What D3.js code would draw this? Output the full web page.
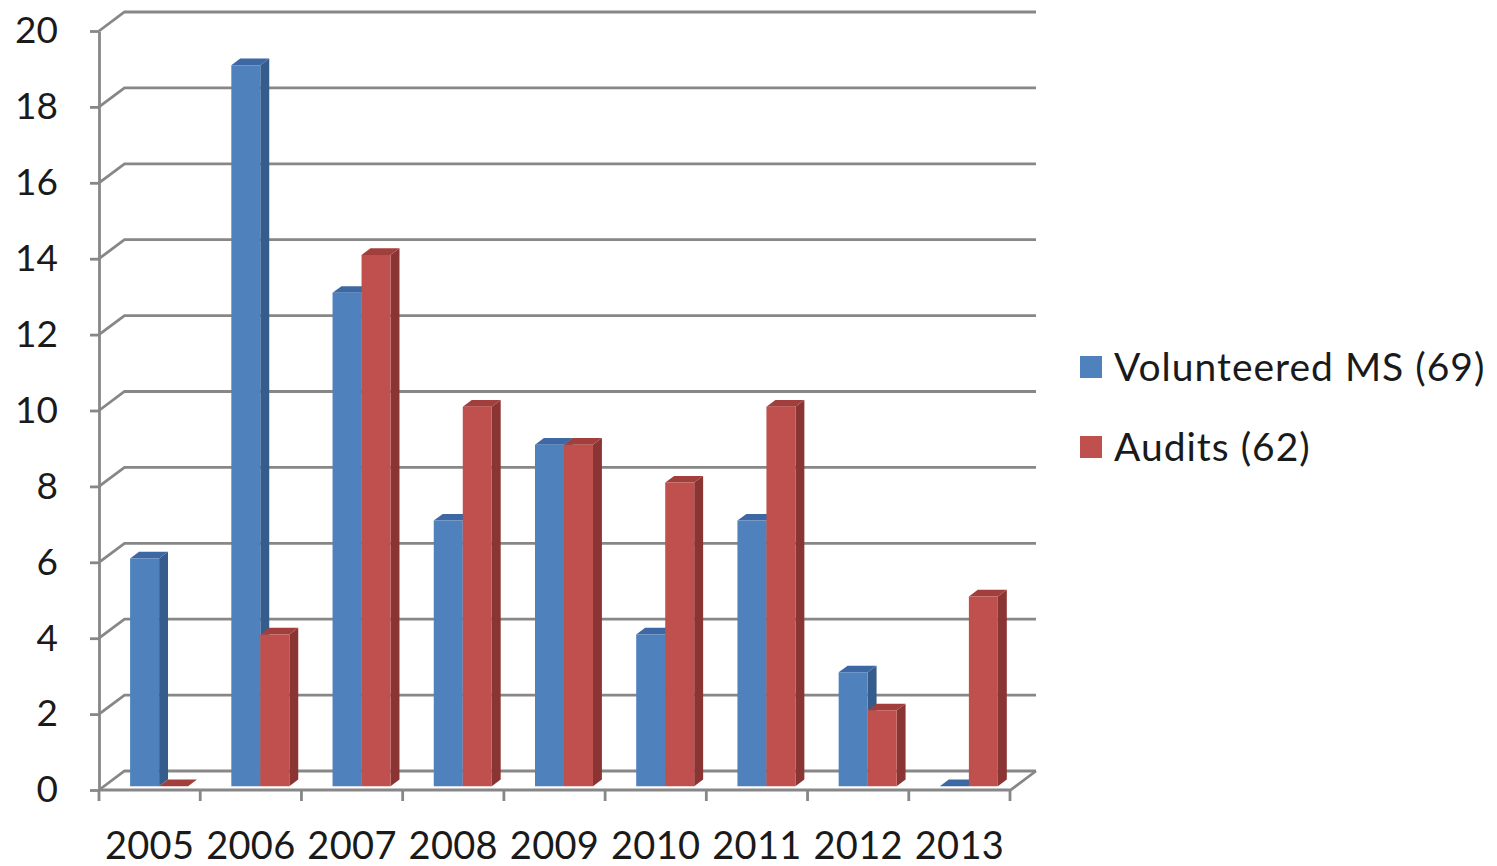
<!DOCTYPE html>
<html><head><meta charset="utf-8">
<script src="https://cdn.jsdelivr.net/npm/d3@7/dist/d3.min.js"></script>
<style>body{margin:0;background:#fff}svg{display:block}</style>
</head><body>
<svg id="c" width="1497" height="866"></svg>
<script>
const years = ["2005","2006","2007","2008","2009","2010","2011","2012","2013"];
const seriesNames = ["Volunteered MS (69)","Audits (62)"];
const volunteered = [6,19,13,7,9,4,7,3,0];
const audits = [0,4,14,10,9,8,10,2,5];
const yTicks = [0,2,4,6,8,10,12,14,16,18,20];

const front = ["#4F81BD","#C0504D"];
const side = ["#365C8C","#8A3533"];
const top_ = ["#3E68A3","#A23F3C"];

const svg = d3.select("#c");
const FONT = "Lato, 'Open Sans', sans-serif";
const x = d3.scaleBand().domain(years).range([99, 1010]).padding(0);
const xs = d3.scaleBand().domain(seriesNames).range([26, 84]).padding(0);
const y = d3.scaleLinear().domain([0, 20]).range([790, 31]);
const DX = 25.5, DY = 19;
const P = (px, v, z) => [px + z*DX, y(v) - z*DY];

const grid = "#878787";
const g = svg.append("g");
yTicks.forEach(t => {
  const a = P(99, t, 0), b = P(99, t, 1), c = P(1010.5, t, 1);
  g.append("path").attr("d", d3.line()([a, b, c]))
    .attr("fill","none").attr("stroke",grid).attr("stroke-width",2.8);
});
g.append("path").attr("d", d3.line()([P(99,0,0), P(1010.5,0,0), P(1010.5,0,1)]))
  .attr("fill","none").attr("stroke",grid).attr("stroke-width",2.8);
d3.range(years.length + 1).forEach(i => {
  const xx = 99 + i * x.step();
  g.append("line").attr("x1",xx).attr("x2",xx).attr("y1",790).attr("y2",801)
    .attr("stroke",grid).attr("stroke-width",2.8);
});

const ya = svg.append("g").attr("transform","translate(99,0)")
  .call(d3.axisLeft(y).tickValues(yTicks).tickSize(9).tickSizeOuter(0).tickPadding(32));
ya.select(".domain").attr("stroke",grid).attr("stroke-width",2.8);
ya.selectAll(".tick line").attr("stroke",grid).attr("stroke-width",2.8);
ya.selectAll(".tick text").attr("font-family",FONT).attr("font-size",37).attr("fill","#1a1a1a");

const xa = svg.append("g").attr("transform","translate(0,790)")
  .call(d3.axisBottom(x).tickSize(0).tickPadding(42));
xa.select(".domain").remove();
xa.selectAll(".tick text").attr("font-family",FONT).attr("font-size",38)
  .attr("letter-spacing","0.3px").attr("fill","#1a1a1a");

const z0 = 0.2, z1 = 0.55;
const bars = svg.append("g");
years.forEach((yr, i) => {
  [volunteered[i], audits[i]].forEach((v, s) => {
    const x0 = x(yr) + xs(seriesNames[s]);
    const x1 = x0 + xs.bandwidth();
    const poly = pts => d3.line()(pts) + "Z";
    bars.append("path").attr("d", poly([P(x1,0,z0),P(x1,0,z1),P(x1,v,z1),P(x1,v,z0)])).attr("fill", side[s]);
    bars.append("path").attr("d", poly([P(x0,v,z0),P(x1,v,z0),P(x1,v,z1),P(x0,v,z1)])).attr("fill", top_[s]);
    if (v > 0) bars.append("path").attr("d", poly([P(x0,0,z0),P(x1,0,z0),P(x1,v,z0),P(x0,v,z0)])).attr("fill", front[s]);
  });
});

const lg = svg.append("g");
seriesNames.forEach((n, s) => {
  const cy = 367 + s * 80;
  lg.append("rect").attr("x",1080).attr("y",cy-11).attr("width",22).attr("height",22).attr("fill",front[s]);
  lg.append("text").attr("x",1114).attr("y",cy).attr("dy","0.35em")
    .attr("font-family",FONT).attr("font-size",39).attr("letter-spacing","1px")
    .attr("fill","#1a1a1a").text(n);
});
</script>
</body></html>
